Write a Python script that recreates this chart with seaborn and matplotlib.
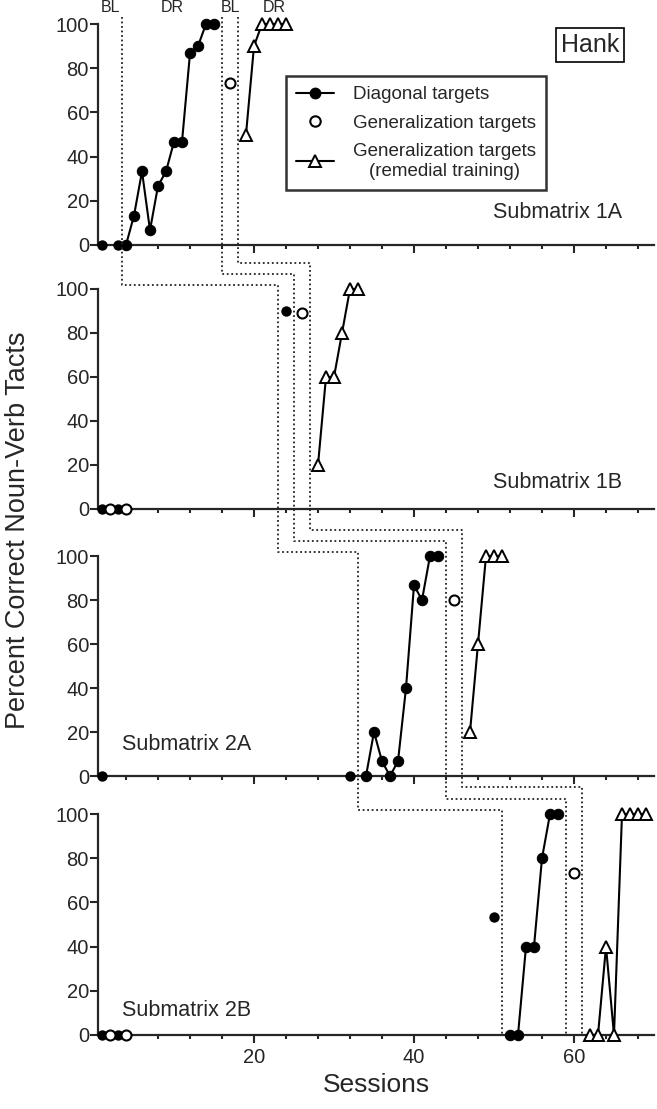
import numpy as np
import pandas as pd
import seaborn as sns
from matplotlib import pyplot as plt
from matplotlib.lines import Line2D

# ---- data (sessions, percent correct) ----
# Submatrix 1A
diag_1a_bl_x = [1, 3]
diag_1a_bl_y = [0, 0]
diag_1a_tr_x = [4, 5, 6, 7, 8, 9, 10, 11, 12, 13, 14, 15]
diag_1a_tr_y = [0, 13.3, 33.3, 6.7, 26.7, 33.3, 46.7, 46.7, 86.7, 90, 100, 100]
gen_1a_x = [17]
gen_1a_y = [73.3]
rem_1a_x = [19, 20, 21, 22, 23, 24]
rem_1a_y = [50, 90, 100, 100, 100, 100]

# Submatrix 1B
diag_1b_x = [1, 3, 24]
diag_1b_y = [0, 0, 90]
gen_1b_x = [2, 4, 26]
gen_1b_y = [0, 0, 89]
rem_1b_x = [28, 29, 30, 31, 32, 33]
rem_1b_y = [20, 60, 60, 80, 100, 100]

# Submatrix 2A
diag_2a_bl_x = [1, 32]
diag_2a_bl_y = [0, 0]
diag_2a_tr_x = [34, 35, 36, 37, 38, 39, 40, 41, 42, 43]
diag_2a_tr_y = [0, 20, 6.7, 0, 6.7, 40, 86.7, 80, 100, 100]
gen_2a_x = [45]
gen_2a_y = [80]
rem_2a_x = [47, 48, 49, 50, 51]
rem_2a_y = [20, 60, 100, 100, 100]

# Submatrix 2B
diag_2b_bl_x = [1, 3, 50]
diag_2b_bl_y = [0, 0, 53.3]
diag_2b_tr_x = [52, 53, 54, 55, 56, 57, 58]
diag_2b_tr_y = [0, 0, 40, 40, 80, 100, 100]
gen_2b_x = [2, 4, 60]
gen_2b_y = [0, 0, 73.3]
rem_2b_x = [62, 63, 64, 65, 66, 67, 68, 69]
rem_2b_y = [0, 0, 40, 0, 100, 100, 100, 100]

# phase-change lines per panel (session positions)
phase_1a = [3.5, 16, 18]
phase_1b = [23, 25, 27]
phase_2a = [33, 44, 46]
phase_2b = [51, 59, 61]

panel_names = ["Submatrix 1A", "Submatrix 1B", "Submatrix 2A", "Submatrix 2B"]
phase_labels = ["BL", "DR", "BL", "DR"]
phase_label_x = [2, 9.75, 17, 22.5]
legend_labels = ["Diagonal targets", "Generalization targets",
                 "Generalization targets\n(remedial training)"]

panels = [
    {"diag_line": [(diag_1a_tr_x, diag_1a_tr_y)], "diag_pts": (diag_1a_bl_x, diag_1a_bl_y),
     "gen": (gen_1a_x, gen_1a_y), "rem": [(rem_1a_x, rem_1a_y)]},
    {"diag_line": [], "diag_pts": (diag_1b_x, diag_1b_y),
     "gen": (gen_1b_x, gen_1b_y), "rem": [(rem_1b_x, rem_1b_y)]},
    {"diag_line": [(diag_2a_tr_x, diag_2a_tr_y)], "diag_pts": (diag_2a_bl_x, diag_2a_bl_y),
     "gen": (gen_2a_x, gen_2a_y), "rem": [(rem_2a_x, rem_2a_y)]},
    {"diag_line": [(diag_2b_tr_x, diag_2b_tr_y)], "diag_pts": (diag_2b_bl_x, diag_2b_bl_y),
     "gen": (gen_2b_x, gen_2b_y), "rem": [(rem_2b_x, rem_2b_y)]},
]

sns.set_style("ticks")
plt.rcParams["font.family"] = ["Liberation Sans", "DejaVu Sans"]

W, H = 657, 1109
fig = plt.figure(figsize=(W / 100, H / 100), dpi=100)
left_px, right_px = 98, 654
panel_px = [(24, 245), (289, 509), (556, 776), (814, 1035)]

axes = []
for i, (top, bot) in enumerate(panel_px):
    ax = fig.add_axes([left_px / W, 1 - bot / H, (right_px - left_px) / W, (bot - top) / H])
    axes.append(ax)
    p = panels[i]

    for xs, ys in p["diag_line"]:
        sns.lineplot(x=xs, y=ys, ax=ax, color="black", lw=1.5, marker="o", markersize=7.5,
                     markerfacecolor="black", markeredgecolor="black", estimator=None, sort=False)
    sns.scatterplot(x=p["diag_pts"][0], y=p["diag_pts"][1], ax=ax, color="black",
                    marker="o", s=56, edgecolor="black", linewidth=0)
    sns.scatterplot(x=p["gen"][0], y=p["gen"][1], ax=ax, color="white",
                    marker="o", s=52, edgecolor="black", linewidth=1.5)
    for xs, ys in p["rem"]:
        sns.lineplot(x=xs, y=ys, ax=ax, color="black", lw=1.5, marker="^", markersize=8.5,
                     markerfacecolor="white", markeredgecolor="black", markeredgewidth=1.4,
                     estimator=None, sort=False)

    for art in list(ax.lines) + list(ax.collections):
        art.set_clip_on(False)
        art.set_zorder(5)

    ax.set_xlim(0.5, 70)
    ax.set_ylim(0, 100)
    ax.set_yticks(range(0, 101, 20))
    ax.set_xticks([20, 40, 60])
    ax.set_xticks(range(4, 70, 4), minor=True)
    sns.despine(ax=ax)
    for side in ["left", "bottom"]:
        ax.spines[side].set_linewidth(1.6)
    ax.tick_params(axis="y", length=5.5, width=1.5, pad=1, labelsize=14.5)
    ax.tick_params(axis="x", which="major", length=5.5, width=1.5, pad=4, labelsize=14.5)
    ax.tick_params(axis="x", which="minor", length=3, width=1.5)
    if i < 3:
        ax.tick_params(axis="x", labelbottom=False)
    ax.set_xlabel("")
    ax.set_ylabel("")

# panel names
axes[0].text(66, 14.5, panel_names[0], ha="right", va="center", fontsize=15.5)
axes[1].text(66, 12, panel_names[1], ha="right", va="center", fontsize=15.5)
axes[2].text(3.5, 14.5, panel_names[2], ha="left", va="center", fontsize=15.5)
axes[3].text(3.5, 11, panel_names[3], ha="left", va="center", fontsize=15.5)

# phase labels
for lab, x in zip(phase_labels, phase_label_x):
    axes[0].text(x, 107.5, lab, ha="center", va="center", fontsize=11.5)


# staggered phase-change lines drawn across panels
def to_fig(ax, x, y):
    return fig.transFigure.inverted().transform(ax.transData.transform((x, y)))


step_levels = [102, 107, 112]
for k in range(3):
    pts = [
        (axes[0], phase_1a[k], 103),
        (axes[1], phase_1a[k], step_levels[k]),
        (axes[1], phase_1b[k], step_levels[k]),
        (axes[2], phase_1b[k], step_levels[k]),
        (axes[2], phase_2a[k], step_levels[k]),
        (axes[3], phase_2a[k], step_levels[k]),
        (axes[3], phase_2b[k], step_levels[k]),
        (axes[3], phase_2b[k], 0),
    ]
    xy = np.array([to_fig(a, x, y) for a, x, y in pts])
    fig.add_artist(Line2D(xy[:, 0], xy[:, 1], transform=fig.transFigure, color="#222222",
                          lw=1.3, ls=(0, (1, 1.5)), zorder=1))

# legend
handles = [
    Line2D([], [], color="black", lw=1.5, marker="o", markersize=7.5),
    Line2D([], [], color="none", marker="o", markersize=7.5, markerfacecolor="white",
           markeredgecolor="black", markeredgewidth=1.5),
    Line2D([], [], color="black", lw=1.5, marker="^", markersize=8.5, markerfacecolor="white",
           markeredgecolor="black", markeredgewidth=1.4),
]
leg = fig.legend(handles, legend_labels, loc="upper left", bbox_to_anchor=(286 / W, 1 - 76 / H),
                 fontsize=13.5, frameon=True, fancybox=False, edgecolor="black",
                 handlelength=2.0, borderpad=0.55, labelspacing=0.6, handletextpad=1.0,
                 borderaxespad=0)
leg.get_frame().set_linewidth(1.8)
leg.get_texts()[2].set_multialignment("center")

fig.text(590 / W, 1 - 45 / H, "Hank", ha="center", va="center", fontsize=18,
         bbox=dict(boxstyle="square,pad=0.2", fc="white", ec="black", lw=1.2))

fig.text(18 / W, 1 - 530 / H, "Percent Correct Noun-Verb Tacts", rotation=90,
         ha="center", va="center", fontsize=19.5)
fig.text((left_px + right_px) / 2 / W, 1 - 1085 / H, "Sessions", ha="center", va="center",
         fontsize=19)

fig.savefig("out.png", dpi=100)
